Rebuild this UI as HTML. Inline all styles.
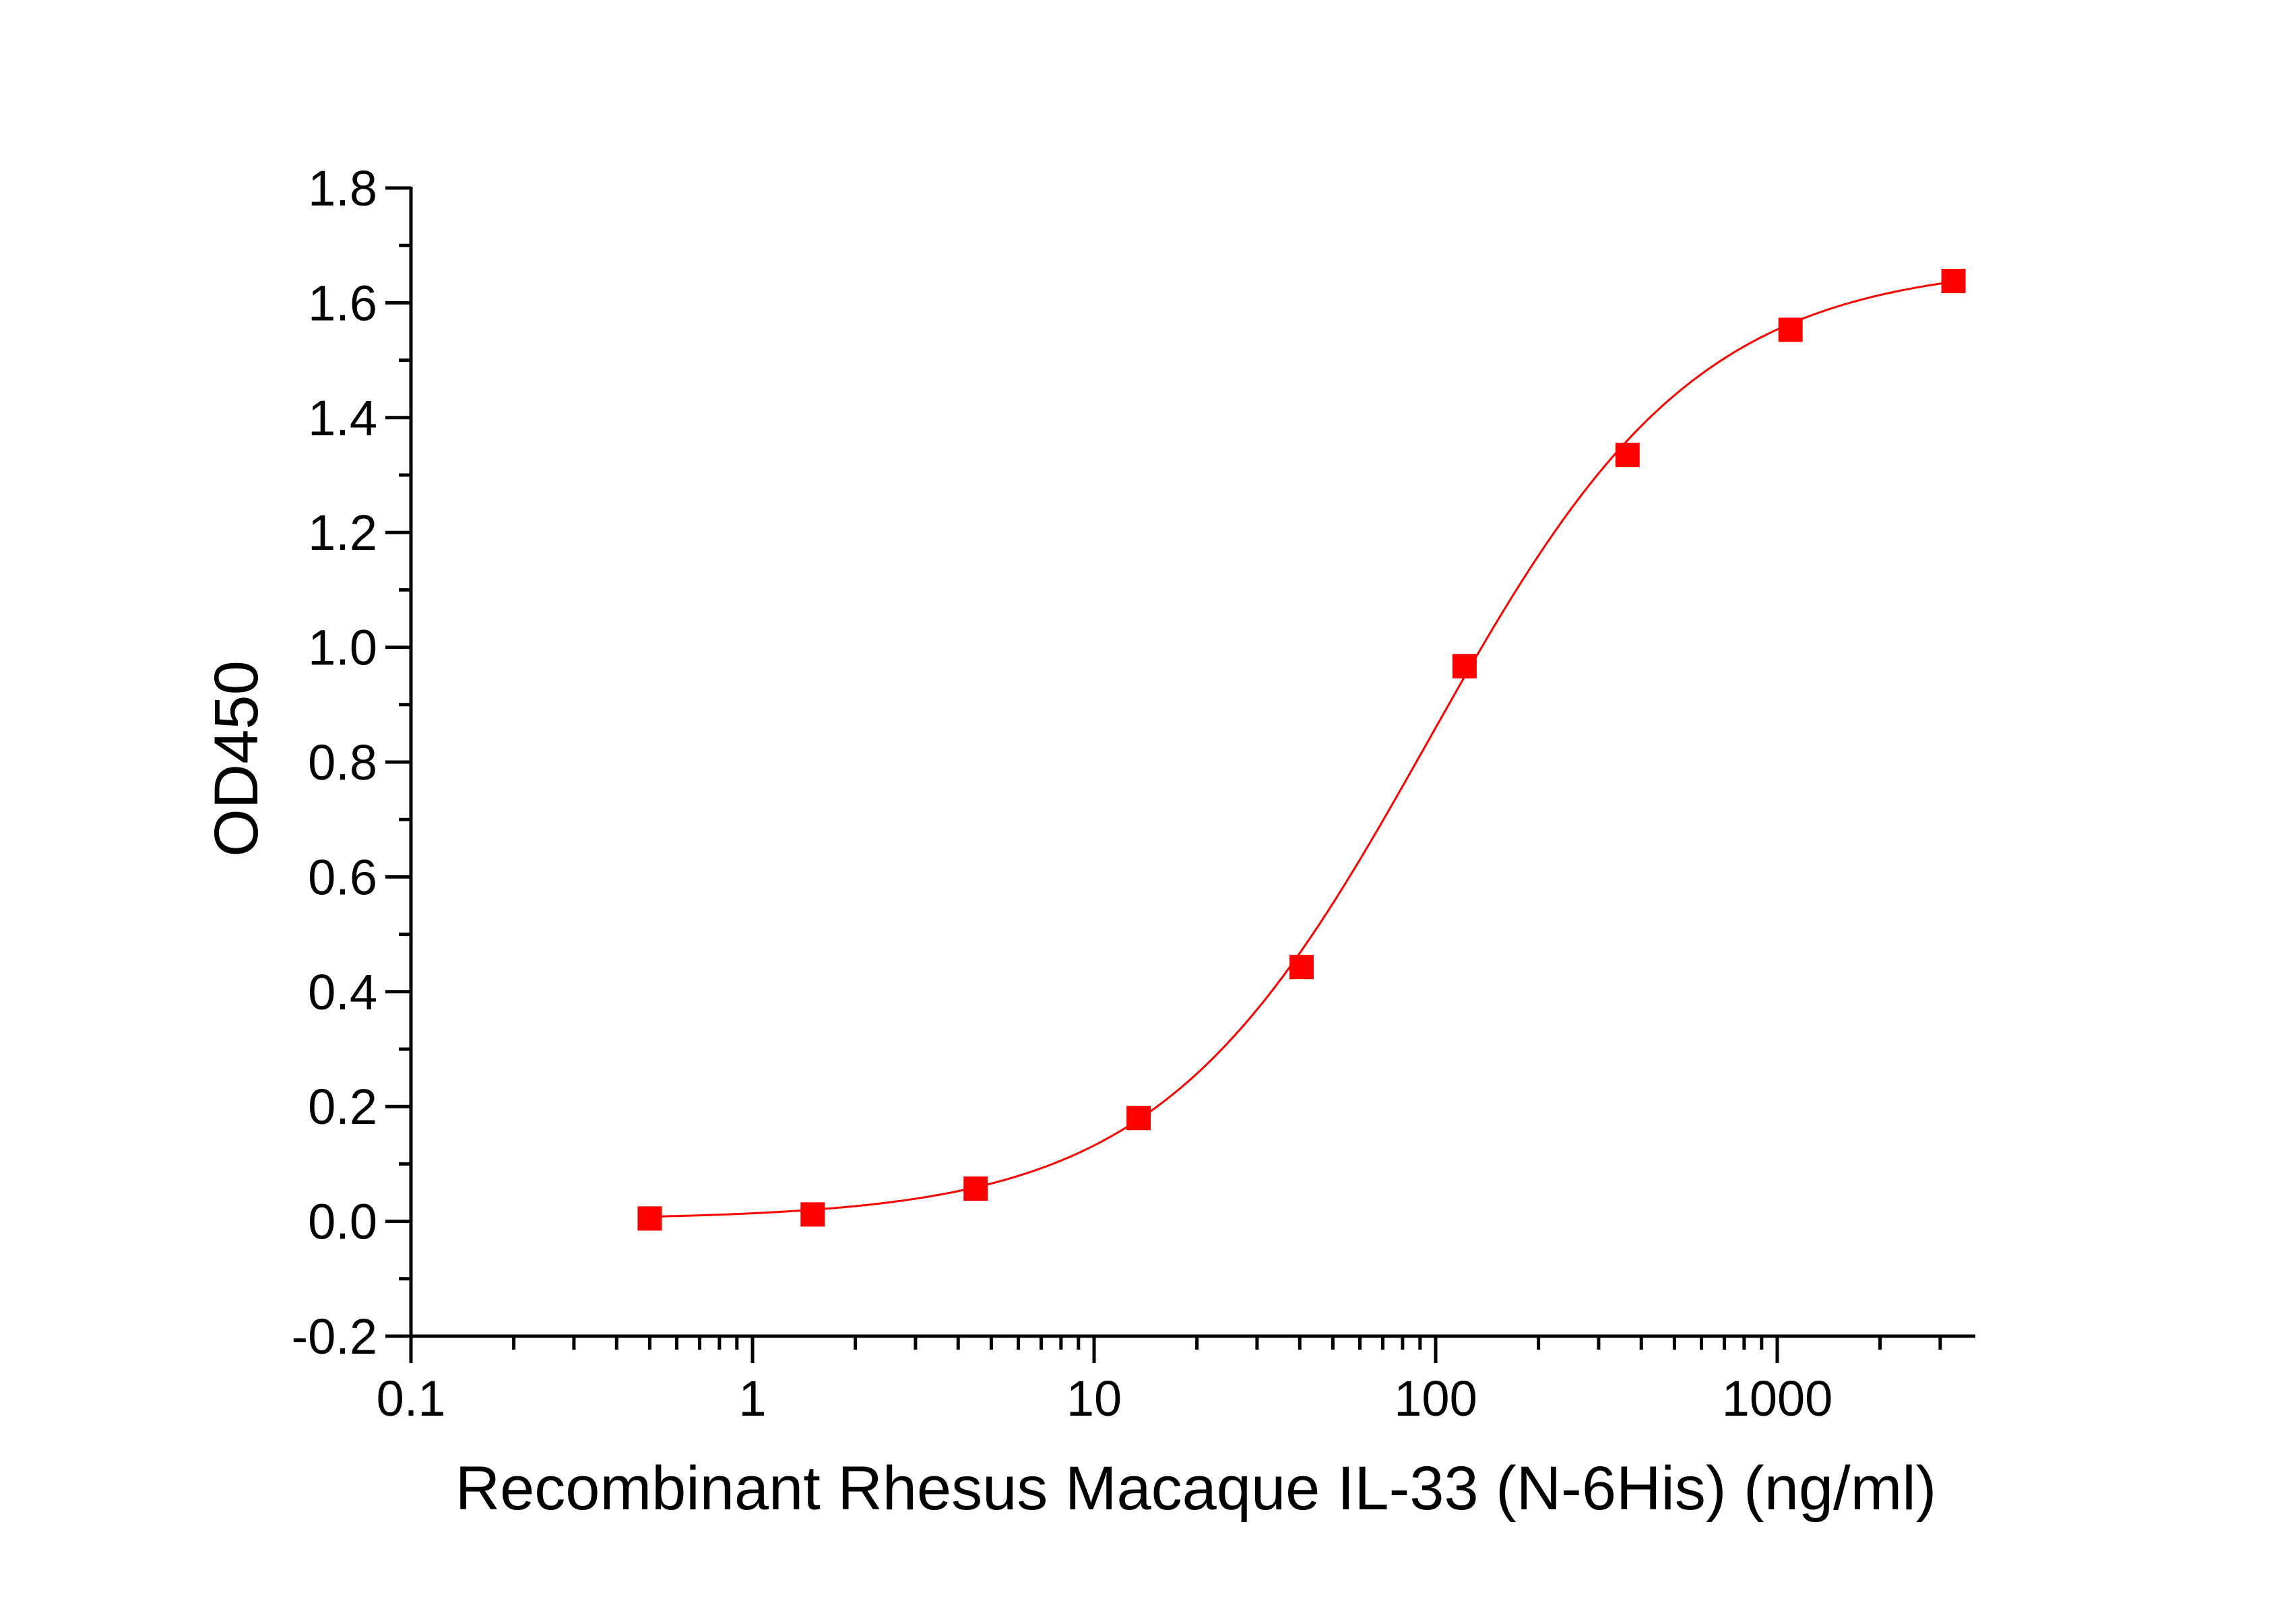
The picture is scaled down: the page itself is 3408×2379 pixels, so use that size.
<!DOCTYPE html>
<html><head><meta charset="utf-8"><style>
html,body{margin:0;padding:0;background:#fff;}
svg{display:block;}
text{font-family:"Liberation Sans",sans-serif;fill:#000;}
</style></head><body>
<svg id="s" width="3408" height="2379" xmlns="http://www.w3.org/2000/svg">
<rect width="3408" height="2379" fill="#fff"/>
<g id="ax" stroke="#000" stroke-width="5" fill="none"></g>
<g id="lbl" font-size="74"></g>
<text x="1775" y="2240" font-size="92" text-anchor="middle">Recombinant Rhesus Macaque IL-33 (N-6His) (ng/ml)</text>
<text transform="translate(382,1126) rotate(-90)" font-size="92" text-anchor="middle">OD450</text>
<path id="curve" stroke="#ff0000" stroke-width="3" fill="none"/>
<g id="pts" fill="#ff0000"></g>
</svg>
<script>
var X0=610,DEC=507,YB=1983,YU=852;
function px(v){return X0+(Math.log10(v)+1)*DEC;}
function py(v){return YB-(v+0.2)*YU;}
var ax=document.getElementById('ax'),lb=document.getElementById('lbl'),ns='http://www.w3.org/2000/svg';
function line(x1,y1,x2,y2){var l=document.createElementNS(ns,'line');l.setAttribute('x1',x1);l.setAttribute('y1',y1);l.setAttribute('x2',x2);l.setAttribute('y2',y2);ax.appendChild(l);}
function txt(x,y,s,a){var t=document.createElementNS(ns,'text');t.setAttribute('x',x);t.setAttribute('y',y);t.setAttribute('text-anchor',a);t.textContent=s;lb.appendChild(t);}
line(X0,py(1.8)-2,X0,YB+2);line(X0-2,YB,2932,YB);
for(var i=0;i<=20;i++){var v=-0.2+i*0.1,y=py(v);if(i%2==0){line(X0-38,y,X0,y);txt(X0-50,y+26,v.toFixed(1),'end');}else line(X0-18,y,X0,y);}
for(var d=-1;d<=3;d++){var b=Math.pow(10,d);line(px(b),YB,px(b),YB+40);txt(px(b),YB+118,d<0?'0.1':String(b),'middle');for(var k=2;k<=9;k++){var v=b*k;if(px(v)>2932)break;line(px(v),YB,px(v),YB+20);}}
var A=0.003,D=1.67,C=95,B=1.1;
function f(x){return D-(D-A)/(1+Math.pow(x/C,B));}
var d="";for(var i=0;i<=400;i++){var lx=Math.log10(0.5)+i/400*(Math.log10(3280.5)-Math.log10(0.5));var x=Math.pow(10,lx);d+=(i?"L":"M")+px(x).toFixed(1)+","+py(f(x)).toFixed(1);}
document.getElementById('curve').setAttribute('d',d);
var ys=[0.005,0.012,0.057,0.18,0.443,0.967,1.335,1.553,1.638],g=document.getElementById('pts');
for(var i=0;i<9;i++){var x=0.5*Math.pow(3,i);var r=document.createElementNS(ns,'rect');r.setAttribute('x',px(x)-18);r.setAttribute('y',py(ys[i])-18);r.setAttribute('width',36);r.setAttribute('height',36);g.appendChild(r);}
</script>
</body></html>
